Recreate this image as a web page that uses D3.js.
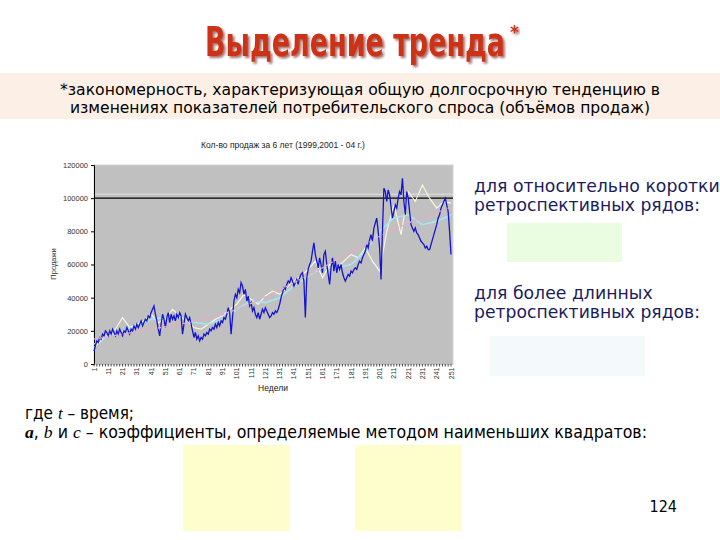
<!DOCTYPE html>
<html><head><meta charset="utf-8">
<script src="https://cdnjs.cloudflare.com/ajax/libs/d3/7.8.5/d3.min.js"></script>
<style>body{margin:0;background:#fff}svg{display:block}</style>
</head><body><div id="chart"></div>
<script>
const weeks = d3.range(1, 252);
const sales = [
7800,11000,14000,13000,16000,15000,18000,17000,20000,19000,
17000,20000,18000,21000,19000,17000,20000,18000,21000,19000,
17000,20000,19000,22000,20000,18000,21000,20000,23000,21000,
24000,22000,24000,26000,23000,25000,27000,26000,29000,28000,
31000,33000,35000,30000,26000,21000,17000,24000,30000,27000,
22000,28000,31000,25000,30000,27000,29000,26000,30000,28000,
31000,29000,18000,24000,30000,28000,26000,28000,24000,20000,
16000,19000,15000,17000,14000,16000,15000,18000,17000,19000,
18000,21000,20000,22000,21000,24000,22000,25000,23000,26000,
25000,28000,27000,30000,34000,31000,18000,28000,38000,42000,
40000,45000,43000,49000,47000,42000,45000,38000,41000,35000,
37000,32000,34000,30000,28000,31000,27000,30000,33000,31000,
34000,32000,30000,28000,29000,31000,30000,32000,31000,33000,
36000,40000,43000,46000,45000,48000,50000,49000,52000,50000,
47000,49000,51000,48000,52000,54000,55000,50000,28000,52000,
57000,60000,62000,68000,73000,66000,62000,58000,64000,60000,
55000,66000,68000,60000,54000,48000,58000,64000,56000,62000,
55000,60000,57000,60000,55000,52000,50000,52000,54000,53000,
56000,55000,57000,58000,57000,60000,62000,61000,64000,66000,
68000,72000,70000,75000,78000,74000,82000,85000,88000,80000,
70000,51000,80000,106000,104000,98000,105000,102000,95000,88000,
92000,96000,94000,100000,104000,102000,112000,98000,90000,104000,
100000,92000,84000,82000,80000,82000,79000,78000,76000,74000,
73000,72000,70000,71000,69000,69000,72000,75000,78000,81000,
84000,88000,90000,94000,96000,98000,100000,96000,92000,80000,
66000];
const tenWeeks = [1,11,21,31,41,51,61,71,81,91,101,111,121,131,141,151,161,171,181,191,201,211,221,231,241,251];
const movingAvg = [12000,17000,20000,23000,27000,28000,28000,25000,24000,27000,33000,38000,37000,40000,47000,53000,58000,58000,60000,68000,80000,88000,90000,84000,86000,90000];
const trend = [15000,16500,18000,19500,21000,22500,24000,25500,27500,30000,33000,36500,40500,44500,49000,53500,58000,63000,67500,72000,77000,81000,85000,88500,91500,94500];
const fiveWeeks = [1,6,11,16,21,26,31,36,41,46,51,56,61,66,71,76,81,86,91,96,101,106,111,116,121,126,131,136,141,146,151,156,161,166,171,176,181,186,191,196,201,206,211,216,221,226,231,236,241,246,251];
const paleSeries = [10000,14000,18000,21000,28000,22000,24000,26000,30000,25000,27000,33000,29000,26000,22000,21000,24000,27000,29000,33000,36000,42000,39000,36000,41000,44000,42000,46000,50000,53000,57000,62000,52000,60000,58000,62000,66000,64000,70000,62000,56000,80000,96000,78000,104000,98000,108000,100000,94000,98000,97000];
const yTicks = [0,20000,40000,60000,80000,100000,120000];
const xTickLabels = tenWeeks.map(String);

const svg = d3.select("#chart").append("svg").attr("width",720).attr("height",540);
const defs = svg.append("defs");
const f = defs.append("filter").attr("id","sh").attr("x","-5%").attr("y","-10%").attr("width","115%").attr("height","140%");
f.append("feDropShadow").attr("dx",2).attr("dy",2).attr("stdDeviation",1.2).attr("flood-color","#6a1408").attr("flood-opacity",0.6);

// Title
svg.append("text").attr("x",205).attr("y",56).attr("textLength",300).attr("lengthAdjust","spacingAndGlyphs")
  .attr("font-family","DejaVu Sans Condensed, DejaVu Sans").attr("font-stretch","condensed").attr("font-weight","bold")
  .attr("font-size",40).attr("fill","#cc3216").attr("filter","url(#sh)").text("Выделение тренда");
svg.append("text").attr("x",510).attr("y",38).attr("font-family","DejaVu Sans").attr("font-weight","bold")
  .attr("font-size",17).attr("fill","#cc3216").attr("filter","url(#sh)").text("*");

// subtitle band
svg.append("rect").attr("x",0).attr("y",73).attr("width",720).attr("height",46).attr("fill","#fcefe5");
const sub = svg.append("g").attr("font-family","DejaVu Sans Condensed, Liberation Sans Narrow").attr("font-stretch","condensed").attr("font-size",16).attr("fill","#000");
sub.append("text").attr("x",60).attr("y",95).attr("textLength",600).attr("lengthAdjust","spacingAndGlyphs")
  .text("*закономерность, характеризующая общую долгосрочную тенденцию в");
sub.append("text").attr("x",70).attr("y",113).attr("textLength",580).attr("lengthAdjust","spacingAndGlyphs")
  .text("изменениях показателей потребительского спроса (объёмов продаж)");

// chart
const L=94, R=453, T=165, B=364;
const x = d3.scalePoint().domain(weeks).range([94,451]);
const y = d3.scaleLinear().domain([0,120000]).range([B,T]);
const cf = "Liberation Sans, Arial, sans-serif";

svg.append("text").attr("x",283).attr("y",148).attr("text-anchor","middle").attr("font-family",cf).attr("font-size",8.5)
  .attr("fill","#222").text("Кол-во продаж за 6 лет (1999,2001 - 04 г.)");

svg.append("rect").attr("x",L).attr("y",T).attr("width",R-L).attr("height",B-T).attr("fill","#c0c0c0").attr("stroke","#d4d4d4");
svg.append("line").attr("x1",L).attr("x2",R).attr("y1",y(100000)-4).attr("y2",y(100000)-4).attr("stroke","#d6d6d6").attr("stroke-width",1.5);
svg.append("line").attr("x1",L).attr("x2",R).attr("y1",y(100000)).attr("y2",y(100000)).attr("stroke","#000").attr("stroke-width",1.2);

// y axis
const ya = svg.append("g").attr("transform",`translate(${L},0)`)
  .call(d3.axisLeft(y).tickValues(yTicks).tickSize(3).tickFormat(d3.format("d")));
ya.select(".domain").attr("stroke","#000");
ya.selectAll("text").attr("font-family",cf).attr("font-size",7.5).attr("fill","#333");
svg.append("text").attr("transform","translate(56,264) rotate(-90)").attr("text-anchor","middle")
  .attr("font-family",cf).attr("font-size",7.5).attr("fill","#333").text("Продажи");

// x axis ticks (every other category) and labels
const xa = svg.append("g").attr("transform",`translate(0,${B})`);
xa.append("line").attr("x1",L).attr("x2",R).attr("stroke","#999").attr("stroke-width",0.6);
xa.selectAll("line.t").data(weeks.filter((d,i)=>i%2===0)).join("line").attr("class","t")
  .attr("x1",d=>x(d)).attr("x2",d=>x(d)).attr("y1",0).attr("y2",2.5).attr("stroke","#333").attr("stroke-width",0.9);
xa.selectAll("text").data(xTickLabels).join("text")
  .attr("transform",d=>`translate(${x(+d)+2.5},3.5) rotate(-90)`).attr("text-anchor","end")
  .attr("font-family",cf).attr("font-size",7).attr("fill","#333").text(d=>d);
svg.append("text").attr("x",273).attr("y",391).attr("text-anchor","middle").attr("font-family",cf).attr("font-size",8.5)
  .attr("fill","#222").text("Недели");

const line = d3.line().x(d=>x(d[0])).y(d=>y(d[1]));
svg.append("path").datum(fiveWeeks.map((w,i)=>[w,paleSeries[i]])).attr("d",line)
  .attr("fill","none").attr("stroke","#fbfbe0").attr("stroke-width",1.1);
svg.append("path").datum(tenWeeks.map((w,i)=>[w,movingAvg[i]])).attr("d",line)
  .attr("fill","none").attr("stroke","#a6e6f2").attr("stroke-width",1.6);
svg.append("path").datum(weeks.map((w,i)=>[w,sales[i]])).attr("d",line)
  .attr("fill","none").attr("stroke","#1414cc").attr("stroke-width",1.3);
svg.append("path").datum(tenWeeks.map((w,i)=>[w,trend[i]])).attr("d",line)
  .attr("fill","none").attr("stroke","#f0a6c8").attr("stroke-width",1.4).attr("stroke-dasharray","3,2");

// right side text
const rt = svg.append("g").attr("font-family","DejaVu Sans, Verdana").attr("font-size",17.3).attr("fill","#1c1c5c");
rt.append("text").attr("x",474).attr("y",192).text("для относительно коротких");
rt.append("text").attr("x",474).attr("y",211).attr("textLength",226).attr("lengthAdjust","spacingAndGlyphs").text("ретроспективных рядов:");
rt.append("text").attr("x",474).attr("y",299).text("для более длинных");
rt.append("text").attr("x",474).attr("y",318).attr("textLength",226).attr("lengthAdjust","spacingAndGlyphs").text("ретроспективных рядов:");
svg.append("rect").attr("x",507).attr("y",223).attr("width",115).attr("height",39).attr("fill","#ebfde0");
svg.append("rect").attr("x",490).attr("y",336).attr("width",155).attr("height",40).attr("fill","#f4f9fc");

// bottom text
const bt = svg.append("g").attr("font-family","DejaVu Sans Condensed, Liberation Sans Narrow").attr("font-stretch","condensed").attr("font-size",17).attr("fill","#000");
const t1 = bt.append("text").attr("x",25).attr("y",419);
t1.append("tspan").text("где ");
t1.append("tspan").attr("font-style","italic").attr("font-family","Liberation Serif").text("t");
t1.append("tspan").text(" – время;");
const t2 = bt.append("text").attr("x",25).attr("y",438).attr("textLength",622).attr("lengthAdjust","spacingAndGlyphs");
t2.append("tspan").attr("font-style","italic").attr("font-weight","bold").attr("font-family","Liberation Serif").text("a");
t2.append("tspan").text(", ");
t2.append("tspan").attr("font-style","italic").attr("font-family","Liberation Serif").text("b");
t2.append("tspan").text(" и ");
t2.append("tspan").attr("font-style","italic").attr("font-family","Liberation Serif").text("c");
t2.append("tspan").text(" – коэффициенты, определяемые методом наименьших квадратов:");

svg.append("rect").attr("x",183).attr("y",445).attr("width",106).attr("height",86).attr("fill","#fefecc");
svg.append("rect").attr("x",355).attr("y",445).attr("width",107).attr("height",86).attr("fill","#fefecc");
svg.append("text").attr("x",677).attr("y",512).attr("text-anchor","end").attr("font-family","DejaVu Sans Condensed, Liberation Sans Narrow")
  .attr("font-size",16).attr("fill","#000").text("124");
</script></body></html>
